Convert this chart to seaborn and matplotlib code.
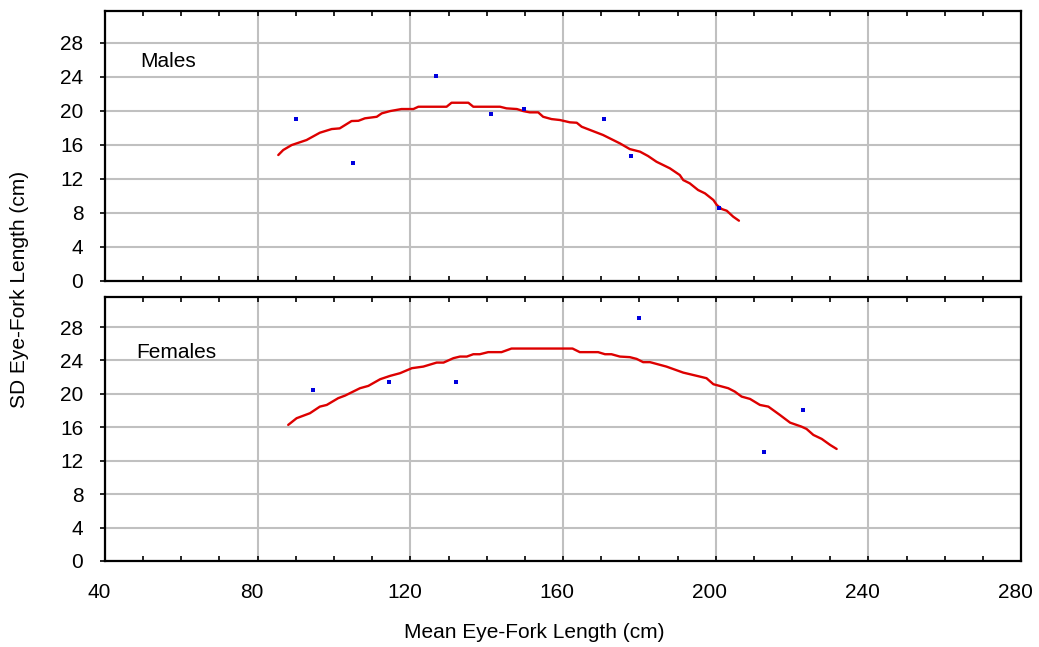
import numpy as np
import pandas as pd
import matplotlib
matplotlib.use("Agg")
import matplotlib.pyplot as plt
from matplotlib.ticker import MultipleLocator
from matplotlib.transforms import ScaledTranslation
import seaborn as sns

# ---------------- data ----------------
male_curve_x = [85.4, 86.7, 88.9, 92.8, 96.3, 99.4, 101.5, 104.6, 106.4, 108.1, 111.2, 112.5,
                114.7, 117.7, 120.8, 122.1, 129.5, 130.8, 135.2, 136.5, 143.5, 145.2, 147.9,
                149.6, 151.3, 153.5, 154.8, 157.0, 159.2, 161.8, 163.6, 164.9, 170.5, 174.9,
                177.5, 180.2, 182.3, 184.5, 188.0, 190.6, 191.5, 193.2, 195.4, 197.2, 199.4,
                200.3, 201.6, 202.9, 204.6, 206.1]
male_curve_y = [14.79, 15.38, 15.96, 16.55, 17.41, 17.84, 17.92, 18.78, 18.81, 19.10, 19.28, 19.68,
                19.95, 20.19, 20.19, 20.46, 20.46, 20.93, 20.93, 20.46, 20.46, 20.27, 20.19,
                19.95, 19.80, 19.80, 19.28, 19.01, 18.90, 18.63, 18.58, 18.11, 17.14, 16.16,
                15.49, 15.18, 14.67, 14.00, 13.23, 12.44, 11.85, 11.47, 10.68, 10.29, 9.51,
                8.92, 8.45, 8.25, 7.55, 7.08]
male_pts_x = [90.0, 105.0, 126.7, 141.1, 149.8, 170.7, 177.8, 200.9]
male_pts_y = [19.0, 13.85, 24.06, 19.6, 20.19, 19.0, 14.67, 8.57]

female_curve_x = [88.0, 90.2, 93.7, 96.3, 98.1, 101.1, 102.9, 106.8, 109.0, 112.1, 114.7, 117.3,
                  120.4, 123.4, 126.9, 128.7, 131.3, 133.0, 134.8, 136.5, 138.2, 140.4, 143.9,
                  146.5, 149.6, 155.7, 162.5, 164.4, 169.2, 171.0, 172.7, 174.9, 177.5, 179.3,
                  181.0, 182.8, 187.1, 191.5, 195.9, 197.6, 199.4, 203.3, 205.0, 206.8, 209.0,
                  211.6, 213.8, 216.8, 219.5, 222.5, 223.8, 225.6, 227.8, 230.0, 231.7]
female_curve_y = [16.29, 17.09, 17.69, 18.48, 18.68, 19.49, 19.80, 20.68, 20.96, 21.76, 22.16, 22.48,
                  23.08, 23.27, 23.75, 23.75, 24.28, 24.47, 24.47, 24.75, 24.75, 25.00, 25.00,
                  25.43, 25.43, 25.43, 25.43, 25.00, 25.00, 24.75, 24.75, 24.47, 24.40, 24.19,
                  23.80, 23.80, 23.27, 22.55, 22.07, 21.88, 21.16, 20.68, 20.28, 19.68, 19.40,
                  18.68, 18.48, 17.49, 16.56, 16.08, 15.81, 15.09, 14.61, 13.89, 13.41]
female_pts_x = [94.6, 114.4, 132.0, 179.9, 223.0, 212.6]
female_pts_y = [20.48, 21.47, 21.47, 29.14, 18.08, 13.05]

panel_labels = ["Males", "Females"]
x_ticks = [40, 80, 120, 160, 200, 240, 280]
y_ticks = [0, 4, 8, 12, 16, 20, 24, 28]
x_label = "Mean Eye-Fork Length (cm)"
y_label = "SD Eye-Fork Length (cm)"

# ---------------- style ----------------
sns.set_style("white")
plt.rcParams["font.family"] = ["Liberation Sans", "DejaVu Sans"]
plt.rcParams.update({"text.color": "black", "axes.labelcolor": "black",
                     "xtick.color": "black", "ytick.color": "black"})
FS = 15.0

fig = plt.figure(figsize=(10.39, 6.47), dpi=100)
L, R = 105 / 1039, 1021 / 1039
ax_top = fig.add_axes([L, 1 - 281 / 647, R - L, 270 / 647])
ax_bot = fig.add_axes([L, 1 - 561 / 647, R - L, 264 / 647])

RED = "#dd0000"
BLUE = "#0000dd"
GRID = "#c0c0c0"

panels = [
    (ax_top, male_curve_x, male_curve_y, male_pts_x, male_pts_y, 31.7, (0.038, 0.813)),
    (ax_bot, female_curve_x, female_curve_y, female_pts_x, female_pts_y, 31.6, (0.034, 0.79)),
]

for i, (ax, cx, cy, px, py, ytop, lab_pos) in enumerate(panels):
    curve = pd.DataFrame({"x": cx, "y": cy})
    pts = pd.DataFrame({"x": px, "y": py})
    sns.lineplot(data=curve, x="x", y="y", ax=ax, color=RED, lw=1.7,
                 sort=False, estimator=None, zorder=3)
    sns.scatterplot(data=pts, x="x", y="y", ax=ax, color=BLUE, marker="s",
                    s=6.5, linewidth=0, zorder=4)
    ax.set_xlim(40, 280)
    ax.set_ylim(0, ytop)
    ax.set_xticks(x_ticks)
    ax.xaxis.set_minor_locator(MultipleLocator(10))
    ax.set_yticks(y_ticks)
    ax.grid(True, which="major", color=GRID, lw=1.5, zorder=0)
    ax.set_axisbelow(True)
    for sp in ax.spines.values():
        sp.set_color("black")
        sp.set_linewidth(1.6)
        sp.set_visible(True)
    ax.tick_params(axis="x", which="both", direction="in", top=True, bottom=True,
                   length=3.6, width=1.2, color="black", labelsize=FS, pad=16)
    ax.tick_params(axis="y", which="major", direction="out", left=True, right=False,
                   length=3.6, width=1.2, color="black", labelsize=FS, pad=12)
    sec = ax.secondary_yaxis("right")
    sec.set_yticks(y_ticks)
    sec.tick_params(direction="in", length=3.6, width=1.2, labelright=False)
    sec.spines["right"].set_visible(False)
    ax.set_xlabel("")
    ax.set_ylabel("")
    ax.text(lab_pos[0], lab_pos[1], panel_labels[i], transform=ax.transAxes,
            fontsize=FS, ha="left", va="center", color="black")
    if ax is ax_top:
        ax.tick_params(axis="x", labelbottom=False)

shift = ScaledTranslation(-6 / 100, 0, fig.dpi_scale_trans)
for lab in ax_bot.get_xticklabels():
    lab.set_transform(lab.get_transform() + shift)

fig.text(534 / 1039, 1 - 632 / 647, x_label, ha="center", va="center", fontsize=FS)
fig.text(20 / 1039, 1 - 289 / 647, y_label, ha="center", va="center",
         rotation=90, fontsize=FS)

fig.savefig("out.png", dpi=100)
